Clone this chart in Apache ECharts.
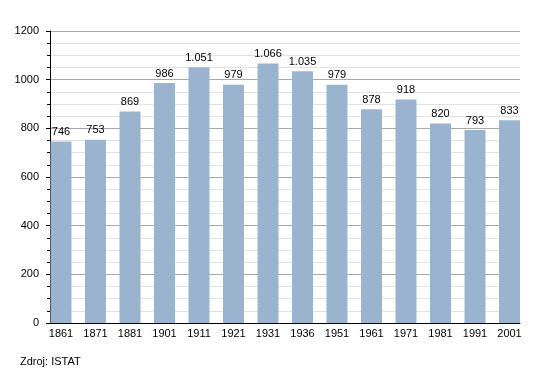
<!DOCTYPE html>
<html>
<head>
<meta charset="utf-8">
<script src="https://cdn.jsdelivr.net/npm/echarts@6/dist/echarts.min.js"></script>
<style>
html,body{margin:0;padding:0;background:#fff;}
#c{width:550px;height:373px;}
</style>
</head>
<body>
<div id="c"></div>
<script>
var categories = ['1861','1871','1881','1901','1911','1921','1931','1936','1951','1961','1971','1981','1991','2001'];
var population = [746,753,869,986,1051,979,1066,1035,979,878,918,820,793,833];
var yTicks = [0,200,400,600,800,1000,1200];
var sourceText = 'Zdroj: ISTAT';

var FONT = '"Liberation Sans", Arial, sans-serif';
function fmt(v){
  var s = String(v);
  return v >= 1000 ? s.slice(0, s.length-3) + '.' + s.slice(s.length-3) : s;
}
var chart = echarts.init(document.getElementById('c'), null, {renderer:'canvas'});
chart.setOption({
  backgroundColor:'#ffffff',
  animation:false,
  textStyle:{fontFamily:FONT},
  grid:[
    {left:50, right:30, top:31, bottom:50},
    {left:43.75, right:23.25, top:31, bottom:50}
  ],
  xAxis:[
    {type:'value', gridIndex:0, min:0, max:1, z:5,
     axisLine:{show:true, lineStyle:{color:'#000', width:1}},
     axisTick:{show:false}, axisLabel:{show:false}, splitLine:{show:false}},
    {type:'category', gridIndex:1, data:categories,
     axisLine:{show:false}, axisTick:{show:false},
     axisLabel:{margin:5, color:'#000', fontSize:11, fontFamily:FONT, interval:0}}
  ],
  yAxis:[
    {type:'value', gridIndex:0, min:yTicks[0], max:yTicks[yTicks.length-1], interval:200,
     axisLine:{show:true, lineStyle:{color:'#000', width:1}},
     axisTick:{show:true, length:4, lineStyle:{color:'#000'}},
     minorTick:{show:true, splitNumber:4, length:3, lineStyle:{color:'#000'}},
     splitLine:{show:true, lineStyle:{color:'#a8a8a8', width:1}},
     minorSplitLine:{show:true, lineStyle:{color:'#e2e2e2', width:1}},
     axisLabel:{margin:11, color:'#000', fontSize:11, fontFamily:FONT,
       formatter:function(v){return String(v);}}},
    {type:'value', gridIndex:1, min:0, max:1200, show:false, splitLine:{show:false}}
  ],
  series:[{
    type:'bar', xAxisIndex:1, yAxisIndex:1, data:population, barWidth:21,
    itemStyle:{color:'#9ab3cf'},
    label:{show:true, position:'top', distance:4, color:'#000', fontSize:11, fontFamily:FONT,
      formatter:function(p){return fmt(p.value);}}
  }],
  graphic:[{type:'text', left:20, top:356, style:{text:sourceText, fill:'#000', font:'11px '+FONT}}]
});
</script>
</body>
</html>
